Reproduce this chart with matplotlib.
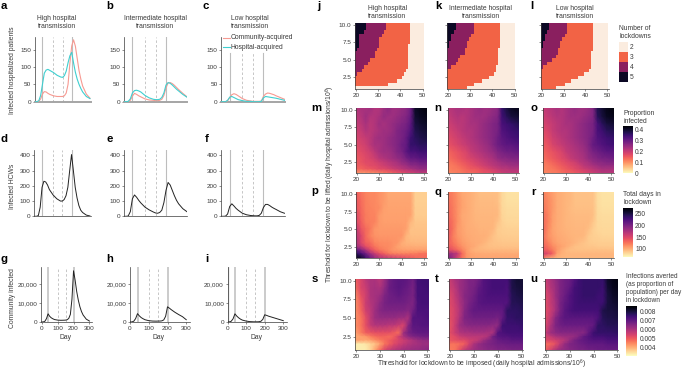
import numpy as np
import matplotlib
matplotlib.use("Agg")
import matplotlib.pyplot as plt
from matplotlib.colors import ListedColormap, BoundaryNorm, Normalize
from matplotlib.cm import ScalarMappable

plt.rcParams["font.family"] = ["Liberation Sans", "DejaVu Sans"]
plt.rcParams["mathtext.default"] = "regular"
plt.rcParams["font.size"] = 4.85

W, H = 685, 370
GREY = "#3a3a3a"
SALMON = "#f79a92"
TEAL = "#3fcfd0"

### line panel data
days = [0, 10, 20, 30, 40, 50, 60, 70, 80, 100, 120, 140, 150, 160, 170, 180, 190, 200, 210, 220, 230, 240, 250, 260, 280, 300]

a_comm = [0, 0, 1, 8, 22, 29, 28, 24, 21, 17, 15, 15, 15, 17, 25, 50, 110, 160, 178, 160, 125, 90, 65, 45, 22, 10]
a_hosp = [0, 0, 3, 18, 50, 82, 91, 93, 90, 84, 76, 71, 70, 75, 88, 112, 132, 142, 112, 85, 65, 50, 38, 28, 15, 9]
b_comm = [0, 0, 0, 4, 16, 24, 21, 17, 14, 8, 5, 4, 3, 3, 4, 7, 18, 40, 54, 55, 52, 47, 41, 35, 24, 14]
b_hosp = [0, 0, 1, 8, 25, 32, 33, 31, 28, 18, 11, 7, 6, 6, 7, 12, 25, 48, 55, 53, 48, 42, 36, 31, 21, 13]
c_comm = [0, 0, 0, 3, 12, 20, 23, 21, 17, 9, 4, 2, 1, 1, 1, 1, 2, 15, 22, 25, 24, 22, 20, 17, 12, 7]
c_hosp = [0, 0, 0, 4, 13, 15, 12, 9, 6, 3, 1, 1, 0, 0, 0, 0, 1, 11, 15, 14, 13, 12, 11, 10, 7, 4]

d_hcw = [0, 0, 5, 60, 190, 230, 225, 205, 175, 140, 115, 100, 100, 110, 135, 190, 300, 405, 300, 190, 120, 70, 40, 25, 8, 2]
e_hcw = [0, 0, 2, 30, 115, 140, 125, 105, 88, 60, 42, 28, 22, 20, 25, 40, 90, 170, 222, 205, 170, 135, 105, 82, 50, 30]
f_hcw = [0, 0, 1, 15, 65, 82, 68, 52, 40, 20, 10, 5, 4, 3, 3, 6, 20, 58, 78, 78, 70, 60, 52, 45, 30, 20]

g_com = [0, 50, 400, 1800, 4300, 3000, 2200, 1700, 1300, 1000, 900, 950, 1000, 1200, 1900, 4000, 12000, 27000, 22000, 16000, 11500, 8000, 5500, 3700, 1500, 500]
h_com = [0, 50, 400, 1800, 4400, 3200, 2300, 1700, 1200, 700, 500, 450, 500, 500, 600, 1100, 3000, 8000, 7300, 6500, 5800, 5100, 4500, 3900, 2800, 1200]
i_com = [0, 50, 400, 1700, 4300, 3100, 2200, 1500, 1000, 500, 200, 100, 100, 100, 150, 400, 1400, 3800, 3500, 3100, 2800, 2500, 2200, 1900, 1300, 700]

lockdown_days = [40, 100, 150, 200]

### number of lockdowns: upper x limit of each region, one value per row (y = 10 down to 1)
y_rows = [10, 9.5, 9, 8.5, 8, 7.5, 7, 6.5, 6, 5.5, 5, 4.5, 4, 3.5, 3, 2.5, 2, 1.5, 1]
x_cols = list(range(20, 51))

j_b5 = [24.5, 24.5, 23.5, 21.5, 21.5, 21.5, 21.5, 20.5, 19, 19, 19, 19, 19, 19, 19, 19, 19, 19, 19]
j_b4 = [33.5, 33.5, 32.5, 31.5, 30.5, 30.5, 30.5, 29.5, 28.5, 28.5, 26.5, 25.5, 23.5, 22.5, 20.5, 19, 19, 19, 19]
j_b3 = [44.5, 44.5, 44.5, 44.5, 44.5, 44.5, 43.5, 43.5, 43.5, 43.5, 43.5, 43.5, 43.5, 42.5, 41.5, 40.5, 38.5, 34.5, 19]
k_b5 = [23.5, 23.5, 22.5, 21.5, 21.5, 20.5, 20.5, 19, 19, 19, 19, 19, 19, 19, 19, 19, 19, 19, 19]
k_b4 = [31.5, 31.5, 31.5, 30.5, 29.5, 28.5, 28.5, 27.5, 27.5, 25.5, 24.5, 23.5, 21.5, 19, 19, 19, 19, 19, 19]
k_b3 = [43.5, 43.5, 43.5, 43.5, 43.5, 43.5, 43.5, 42.5, 42.5, 42.5, 42.5, 42.5, 41.5, 41.5, 40.5, 38.5, 35.5, 31.5, 28.5]
l_b5 = [23.5, 23.5, 22.5, 21.5, 21.5, 20.5, 20.5, 19, 19, 19, 19, 19, 19, 19, 19, 19, 19, 19, 19]
l_b4 = [31.5, 31.5, 31.5, 30.5, 29.5, 28.5, 28.5, 27.5, 27.5, 26.5, 24.5, 22.5, 20.5, 19, 19, 19, 19, 19, 19]
l_b3 = [43.5, 43.5, 43.5, 43.5, 43.5, 43.5, 43.5, 43.5, 42.5, 42.5, 42.5, 42.5, 42.5, 41.5, 39.5, 36.5, 33.5, 30.5, 26.5]

### heatmap rows are y_grid, columns are x_grid
y_grid = [10, 9, 8, 7, 6, 5, 4, 3, 2.5, 2, 1.5, 1]
x_grid = list(range(20, 51, 2))

# proportion infected, in percent
m_inf = [[22, 23, 23, 24, 22, 22, 24, 26, 24, 24, 25, 26, 29, 40, 41, 42],
         [21, 22, 24, 22, 22, 23, 25, 24, 24, 25, 26, 27, 30, 39, 40, 41],
         [20, 21, 23, 21, 22, 24, 23, 24, 25, 26, 27, 28, 31, 38, 39, 40],
         [19, 20, 22, 21, 22, 23, 24, 24, 25, 27, 28, 29, 32, 37, 38, 39],
         [18, 19, 20, 21, 23, 24, 24, 25, 26, 27, 28, 30, 34, 36, 37, 38],
         [17, 18, 19, 21, 23, 23, 24, 25, 26, 27, 29, 30, 35, 35, 36, 36],
         [16, 17, 18, 19, 21, 23, 24, 24, 25, 27, 28, 31, 33, 33, 34, 34],
         [15, 16, 17, 18, 19, 21, 22, 23, 24, 25, 26, 28, 30, 30, 31, 31],
         [15, 16, 17, 17, 18, 19, 20, 21, 22, 23, 25, 26, 28, 28, 29, 29],
         [15, 15, 16, 17, 17, 18, 19, 20, 21, 22, 23, 24, 26, 26, 27, 27],
         [14, 14, 15, 15, 16, 17, 17, 18, 19, 20, 21, 22, 23, 24, 25, 25],
         [9, 9, 9, 10, 10, 11, 12, 13, 14, 15, 16, 17, 18, 19, 20, 20]]
n_inf = [[21, 22, 23, 23, 22, 23, 24, 25, 24, 24, 25, 26, 35, 38, 40, 41],
         [20, 21, 22, 21, 22, 23, 24, 24, 24, 25, 26, 27, 34, 36, 38, 39],
         [19, 20, 21, 21, 22, 23, 23, 24, 25, 26, 27, 28, 33, 34, 35, 37],
         [18, 19, 20, 21, 22, 22, 23, 24, 25, 26, 27, 28, 32, 33, 34, 35],
         [17, 18, 19, 20, 21, 22, 23, 24, 25, 26, 27, 29, 31, 32, 33, 34],
         [16, 17, 18, 19, 20, 21, 22, 23, 24, 25, 27, 29, 30, 31, 31, 32],
         [14, 15, 16, 17, 18, 20, 21, 22, 23, 24, 25, 27, 28, 29, 29, 30],
         [13, 14, 15, 16, 17, 18, 19, 20, 21, 22, 23, 25, 26, 26, 27, 27],
         [12, 13, 14, 15, 16, 17, 18, 19, 20, 21, 22, 23, 24, 25, 25, 26],
         [12, 12, 13, 14, 15, 16, 17, 18, 19, 20, 21, 22, 23, 23, 24, 24],
         [11, 12, 12, 13, 14, 15, 15, 16, 17, 18, 19, 20, 21, 21, 22, 22],
         [11, 11, 12, 12, 13, 13, 14, 15, 16, 16, 17, 18, 19, 20, 20, 20]]
o_inf = [[20, 21, 22, 23, 22, 23, 24, 25, 24, 24, 25, 27, 37, 39, 41, 42],
         [19, 20, 21, 22, 22, 23, 24, 24, 24, 25, 26, 27, 36, 38, 40, 41],
         [18, 19, 20, 21, 22, 23, 23, 24, 25, 26, 27, 28, 33, 36, 38, 39],
         [17, 18, 20, 21, 22, 22, 23, 24, 25, 26, 27, 28, 33, 34, 36, 37],
         [16, 17, 19, 20, 21, 22, 23, 24, 25, 26, 27, 29, 32, 33, 34, 35],
         [15, 16, 18, 19, 20, 21, 22, 23, 24, 25, 27, 30, 31, 32, 33, 34],
         [14, 15, 16, 17, 18, 20, 21, 22, 23, 24, 26, 28, 29, 30, 31, 31],
         [13, 14, 15, 16, 17, 18, 20, 21, 22, 23, 25, 26, 27, 28, 28, 29],
         [12, 13, 14, 15, 16, 17, 18, 19, 21, 22, 23, 25, 26, 26, 27, 27],
         [12, 12, 13, 14, 15, 16, 17, 18, 19, 21, 22, 23, 24, 25, 25, 25],
         [11, 12, 12, 13, 14, 15, 16, 17, 18, 19, 20, 21, 22, 23, 23, 23],
         [11, 11, 12, 12, 13, 14, 14, 15, 16, 17, 18, 19, 20, 21, 21, 21]]

# total days in lockdown
p_days = [[135, 125, 118, 116, 116, 112, 108, 102, 102, 102, 102, 102, 102, 84, 84, 84],
          [140, 128, 120, 117, 116, 112, 108, 103, 103, 103, 103, 103, 103, 84, 84, 84],
          [140, 130, 120, 118, 116, 114, 106, 104, 104, 104, 104, 104, 103, 85, 85, 85],
          [150, 132, 122, 118, 118, 108, 105, 105, 105, 105, 105, 105, 104, 86, 86, 86],
          [150, 135, 122, 120, 118, 108, 106, 106, 106, 106, 106, 106, 95, 88, 88, 88],
          [165, 140, 130, 122, 110, 108, 108, 108, 108, 108, 108, 105, 90, 90, 90, 90],
          [170, 150, 130, 118, 112, 110, 110, 110, 110, 110, 110, 96, 92, 92, 92, 92],
          [175, 150, 135, 130, 118, 115, 114, 114, 112, 110, 100, 97, 96, 95, 95, 95],
          [180, 165, 145, 135, 125, 118, 116, 115, 112, 105, 102, 100, 100, 99, 99, 99],
          [215, 195, 175, 150, 135, 125, 120, 115, 110, 108, 106, 105, 105, 105, 105, 105],
          [240, 225, 205, 180, 160, 145, 135, 125, 120, 118, 118, 118, 120, 120, 125, 125],
          [270, 260, 235, 210, 190, 175, 170, 165, 160, 155, 150, 145, 140, 135, 130, 130]]
q_days = [[125, 118, 110, 102, 100, 98, 95, 92, 92, 92, 92, 92, 80, 76, 76, 76],
          [128, 120, 112, 104, 100, 98, 95, 93, 93, 93, 93, 92, 80, 77, 77, 77],
          [130, 122, 112, 104, 101, 98, 95, 94, 94, 94, 94, 93, 81, 78, 78, 78],
          [132, 122, 112, 102, 100, 98, 96, 95, 95, 95, 95, 94, 82, 79, 79, 79],
          [135, 125, 112, 103, 100, 98, 97, 96, 96, 96, 96, 90, 83, 81, 81, 81],
          [138, 125, 108, 104, 100, 99, 98, 97, 97, 97, 95, 86, 84, 83, 83, 83],
          [140, 120, 110, 105, 102, 100, 99, 98, 98, 96, 90, 87, 86, 85, 85, 85],
          [135, 125, 115, 108, 104, 102, 100, 99, 96, 92, 90, 89, 88, 88, 88, 88],
          [140, 130, 120, 112, 106, 103, 100, 95, 93, 92, 91, 91, 90, 90, 90, 90],
          [150, 140, 130, 118, 108, 100, 97, 96, 95, 94, 94, 94, 94, 94, 94, 94],
          [185, 175, 165, 130, 110, 104, 102, 101, 100, 100, 100, 100, 100, 100, 100, 100],
          [205, 180, 150, 125, 112, 106, 105, 104, 104, 104, 104, 104, 104, 104, 104, 104]]
r_days = [[120, 112, 106, 100, 98, 96, 94, 90, 90, 90, 90, 90, 78, 75, 75, 75],
          [122, 115, 108, 100, 98, 96, 94, 91, 91, 91, 91, 90, 78, 76, 76, 76],
          [125, 116, 108, 100, 98, 96, 93, 92, 92, 92, 92, 91, 79, 77, 77, 77],
          [128, 118, 106, 100, 98, 96, 94, 93, 93, 93, 93, 92, 79, 78, 78, 78],
          [130, 118, 106, 100, 98, 96, 95, 94, 94, 94, 94, 88, 80, 79, 79, 79],
          [132, 115, 104, 100, 98, 97, 96, 95, 95, 95, 92, 84, 81, 80, 80, 80],
          [128, 112, 106, 102, 100, 98, 97, 96, 96, 94, 87, 84, 83, 82, 82, 82],
          [130, 120, 110, 104, 102, 100, 98, 95, 92, 89, 87, 86, 85, 85, 85, 85],
          [135, 125, 115, 108, 104, 100, 95, 91, 90, 89, 88, 88, 87, 87, 87, 87],
          [140, 132, 122, 108, 100, 94, 92, 92, 91, 91, 91, 91, 91, 91, 91, 91],
          [155, 148, 135, 105, 98, 96, 95, 95, 95, 95, 95, 95, 95, 95, 95, 95],
          [125, 105, 98, 97, 96, 96, 96, 96, 96, 96, 96, 96, 96, 96, 96, 96]]

# infections averted per day in lockdown, in units of 0.0001
s_avert = [[50, 54, 58, 60, 60, 58, 62, 68, 70, 71, 71, 70, 68, 74, 75, 75],
           [48, 54, 56, 60, 61, 60, 64, 69, 70, 71, 70, 69, 67, 74, 74, 75],
           [45, 52, 55, 60, 61, 62, 66, 68, 69, 70, 69, 68, 67, 74, 74, 74],
           [44, 50, 56, 59, 61, 64, 67, 68, 68, 68, 68, 67, 66, 73, 74, 74],
           [44, 49, 55, 58, 62, 65, 66, 66, 66, 66, 66, 65, 68, 73, 73, 73],
           [44, 47, 52, 58, 62, 63, 63, 63, 63, 62, 62, 60, 72, 72, 72, 73],
           [44, 47, 52, 57, 59, 59, 59, 58, 58, 56, 54, 65, 71, 71, 72, 72],
           [42, 46, 50, 51, 52, 52, 52, 52, 50, 48, 62, 67, 69, 70, 70, 70],
           [41, 42, 43, 46, 48, 49, 49, 48, 50, 55, 60, 64, 66, 67, 68, 68],
           [42, 42, 41, 42, 44, 46, 48, 50, 52, 54, 56, 58, 60, 62, 63, 64],
           [33, 33, 34, 36, 38, 42, 47, 50, 53, 55, 57, 59, 60, 61, 62, 62],
           [33, 33, 33, 36, 42, 48, 54, 57, 59, 60, 62, 62, 63, 63, 64, 65]]
t_avert = [[56, 60, 62, 64, 66, 66, 68, 72, 73, 74, 74, 74, 74, 79, 81, 81],
           [55, 58, 62, 64, 66, 67, 70, 72, 73, 74, 74, 74, 73, 79, 80, 81],
           [53, 57, 61, 65, 66, 68, 71, 72, 73, 73, 73, 73, 73, 78, 79, 80],
           [53, 56, 60, 64, 67, 69, 71, 72, 72, 72, 72, 72, 72, 78, 78, 79],
           [52, 55, 59, 65, 68, 70, 70, 70, 70, 70, 70, 70, 77, 77, 77, 78],
           [52, 55, 60, 66, 67, 68, 68, 68, 68, 68, 67, 70, 76, 76, 77, 77],
           [51, 56, 62, 64, 65, 65, 65, 65, 65, 64, 64, 75, 75, 75, 75, 76],
           [52, 56, 59, 60, 60, 61, 61, 61, 60, 60, 72, 73, 74, 74, 74, 74],
           [51, 53, 56, 57, 58, 58, 58, 58, 60, 68, 71, 72, 72, 73, 73, 73],
           [51, 52, 53, 53, 55, 56, 58, 62, 65, 67, 69, 70, 70, 71, 71, 71],
           [47, 47, 48, 50, 55, 60, 63, 65, 66, 67, 68, 68, 69, 69, 69, 69],
           [46, 47, 52, 58, 60, 62, 63, 64, 65, 65, 66, 66, 66, 67, 67, 67]]
u_avert = [[56, 60, 63, 66, 68, 69, 72, 75, 76, 76, 76, 76, 76, 82, 84, 85],
           [54, 59, 62, 66, 68, 70, 74, 75, 76, 76, 76, 76, 75, 81, 83, 84],
           [53, 57, 62, 66, 69, 72, 74, 75, 76, 76, 76, 75, 75, 80, 82, 83],
           [52, 57, 61, 67, 70, 72, 74, 75, 75, 75, 75, 75, 75, 80, 81, 82],
           [52, 56, 61, 67, 71, 73, 74, 74, 74, 74, 74, 74, 79, 80, 80, 81],
           [52, 58, 65, 69, 71, 71, 71, 71, 71, 71, 71, 73, 78, 79, 79, 80],
           [53, 60, 66, 68, 69, 69, 69, 69, 69, 69, 70, 77, 77, 78, 78, 78],
           [56, 62, 64, 65, 65, 65, 65, 65, 65, 70, 75, 76, 76, 76, 76, 77],
           [54, 57, 60, 61, 62, 62, 63, 66, 70, 72, 74, 74, 74, 75, 75, 75],
           [53, 54, 55, 57, 59, 63, 67, 69, 70, 71, 72, 72, 72, 73, 73, 73],
           [48, 49, 52, 58, 63, 66, 67, 68, 69, 70, 70, 70, 70, 71, 71, 71],
           [50, 55, 60, 63, 64, 65, 66, 67, 67, 68, 68, 69, 69, 69, 69, 69]]

lockdown_colors = ["#fbecdf", "#f26345", "#8a1f5f", "#0c0824"]


def px_axes(fig, left, right, top, bottom):
    ax = fig.add_axes([left / W, 1 - bottom / H, (right - left) / W, (bottom - top) / H])
    ax.patch.set_alpha(0)
    return ax


def ftext(fig, x, y, s, **kw):
    kw.setdefault("color", GREY)
    kw.setdefault("ha", "center")
    kw.setdefault("va", "center")
    fig.text(x / W, 1 - y / H, s, **kw)


def style(ax):
    ax.spines["top"].set_visible(False)
    ax.spines["right"].set_visible(False)
    for s in ["left", "bottom"]:
        ax.spines[s].set_linewidth(0.5)
        ax.spines[s].set_color(GREY)
    ax.tick_params(length=1.6, width=0.4, color=GREY, labelcolor=GREY, labelsize=4.6, pad=1)


def line_panel(fig, box, xlim, series, ylim, yticks, yticklabels, thick_x=False, xlabels=False, vtop=1.0):
    ax = px_axes(fig, *box)
    style(ax)
    for d in lockdown_days:
        if d in (40, 200):
            ax.axvline(d, ymax=vtop, color="#bdbdbd", lw=0.8 if not xlabels else 1.1, zorder=1)
        else:
            ax.axvline(d, ymax=vtop, color="#bdbdbd", lw=0.6, ls=(0, (3, 2.5)), zorder=1)
    for y, c, lw in series:
        ax.plot(days, y, color=c, lw=lw, zorder=3, solid_joinstyle="round")
    ax.set_xlim(*xlim)
    ax.set_ylim(0, ylim)
    ax.set_yticks(yticks)
    ax.set_yticklabels(yticklabels)
    if xlabels:
        ax.set_xticks([0, 100, 200, 300])
    else:
        ax.set_xticks([])
    if thick_x:
        ax.spines["bottom"].set_linewidth(1.4)
        ax.spines["bottom"].set_color("#a5a5a5")
    return ax


def heat_axes(fig, box, x20, x50, y10, y25):
    left, right, top, bottom = box
    ax = px_axes(fig, *box)
    style(ax)
    sx = (x50 - x20) / 30.0
    sy = (y25 - y10) / 7.5
    ax.set_xlim(20 + (left - x20) / sx, 20 + (right - x20) / sx)
    ax.set_ylim(10 - (bottom - y10) / sy, 10 - (top - y10) / sy)
    ax.set_xticks([20, 30, 40, 50])
    ax.set_yticks([2.5, 5, 7.5, 10])
    ax.set_yticklabels(["2.5", "5.0", "7.5", "10.0"])
    return ax


def edges(centres, low, high):
    c = np.array(centres, dtype=float)
    e = (c[1:] + c[:-1]) / 2
    return np.concatenate([[low], e, [high]])


def count_panel(fig, box, ticks, b5, b4, b3, cmap, norm, labels=True):
    ax = heat_axes(fig, box, *ticks)
    z = np.full((len(y_rows), len(x_cols)), 2)
    for r in range(len(y_rows)):
        for c, x in enumerate(x_cols):
            if x < b5[r]:
                z[r, c] = 5
            elif x < b4[r]:
                z[r, c] = 4
            elif x < b3[r]:
                z[r, c] = 3
    ax.pcolormesh(edges(x_cols, 19.5, 50.5), edges(y_rows, 10.25, 0.75), z, cmap=cmap, norm=norm, lw=0, rasterized=True)
    if not labels:
        ax.set_yticklabels([])
    return ax


def value_panel(fig, box, ticks, grid, scale, cmap, norm, labels=True):
    ax = heat_axes(fig, box, *ticks)
    z = np.array(grid, dtype=float) * scale
    xl = ax.get_xlim()
    yl = ax.get_ylim()
    # outer cell centres pushed out to the frame, so the shaded mesh fills the axes
    xs = np.array(x_grid, dtype=float)
    ys = np.array(y_grid, dtype=float)
    xs[0], xs[-1] = xl[0], xl[1]
    ys[0], ys[-1] = yl[1], yl[0]
    ax.pcolormesh(xs, ys, z, cmap=cmap, norm=norm, shading="gouraud", rasterized=True)
    if not labels:
        ax.set_yticklabels([])
    return ax


def colour_bar(fig, box, sm, ticks, ticklabels):
    cax = px_axes(fig, *box)
    cb = fig.colorbar(sm, cax=cax)
    cb.outline.set_visible(False)
    cb.set_ticks(ticks)
    cb.set_ticklabels(ticklabels)
    cax.tick_params(length=0, pad=1.8, labelsize=4.8, labelcolor=GREY)
    return cb


def main():
    fig = plt.figure(figsize=(W / 100, H / 100), dpi=100)

    xa = (-2, 304)
    xb = (0, 300)

    # row 1
    h_t = [0, 50, 100, 150]
    top_box = (36.7, 101.7)
    series = [(a_comm, SALMON, 0.8), (a_hosp, TEAL, 0.8)]
    line_panel(fig, (34.8, 90.7, *top_box), xa, series, 187, h_t, h_t, thick_x=True)
    series = [(b_comm, SALMON, 0.8), (b_hosp, TEAL, 0.8)]
    line_panel(fig, (124, 187, *top_box), xb, series, 187, h_t, h_t, thick_x=True)
    series = [(c_comm, SALMON, 0.8), (c_hosp, TEAL, 0.8)]
    line_panel(fig, (221.3, 284.5, *top_box), xb, series, 187, h_t, h_t, thick_x=True, vtop=0.75)

    # row 2
    t2 = [0, 100, 200, 300, 400]
    box2 = (150, 216.3)
    line_panel(fig, (34.3, 90.7, *box2), xa, [(d_hcw, "#222222", 0.7)], 435, t2, t2)
    line_panel(fig, (124, 187, *box2), xb, [(e_hcw, "#222222", 0.7)], 435, t2, t2)
    line_panel(fig, (221.3, 284.5, *box2), xb, [(f_hcw, "#222222", 0.7)], 435, t2, t2)

    # row 3
    t3 = [0, 10000, 20000]
    l3 = ["0", "10,000", "20,000"]
    box3 = (267, 322)
    line_panel(fig, (41.4, 92, *box3), (-2, 316), [(g_com, "#222222", 0.7)], 29000, t3, l3, xlabels=True)
    line_panel(fig, (130, 190, *box3), (0, 320), [(h_com, "#222222", 0.7)], 29000, t3, l3, xlabels=True)
    ax_i = line_panel(fig, (227.5, 287, *box3), (0, 320), [(i_com, "#222222", 0.7)], 29000, t3, l3, xlabels=True)
    ax_i.axvline(1, color="#bdbdbd", lw=1.0, zorder=1)

    # heatmaps
    cm_count = ListedColormap(lockdown_colors)
    nm_count = BoundaryNorm([1.5, 2.5, 3.5, 4.5, 5.5], 4)
    cm_val = plt.get_cmap("magma_r")
    nm_inf = Normalize(0, 0.43)
    nm_days = Normalize(63, 276)
    nm_avert = Normalize(0.0031, 0.00863)

    t1 = (25, 77.3)
    count_panel(fig, (355, 423.5, 23.3, 89.3), (356, 422.7, *t1), j_b5, j_b4, j_b3, cm_count, nm_count)
    count_panel(fig, (446.7, 515.2, 23.3, 89.3), (448, 514.7, *t1), k_b5, k_b4, k_b3, cm_count, nm_count, labels=False)
    count_panel(fig, (540.7, 608.7, 23.3, 89.3), (541.7, 607.3, *t1), l_b5, l_b4, l_b3, cm_count, nm_count, labels=False)

    t_m = (110, 162.3)
    value_panel(fig, (356.3, 427.3, 108.3, 173.3), (356.7, 424.3, *t_m), m_inf, 0.01, cm_val, nm_inf)
    value_panel(fig, (447.7, 519.3, 108.3, 173.3), (448.7, 515.5, *t_m), n_inf, 0.01, cm_val, nm_inf, labels=False)
    value_panel(fig, (542.7, 614, 108.3, 173.3), (543.7, 611, *t_m), o_inf, 0.01, cm_val, nm_inf, labels=False)

    t_p = (194.3, 246.7)
    value_panel(fig, (356.3, 427.3, 192.3, 258.3), (356.7, 424.3, *t_p), p_days, 1, cm_val, nm_days)
    value_panel(fig, (447.7, 519.3, 192.3, 258.3), (448.7, 515.5, *t_p), q_days, 1, cm_val, nm_days, labels=False)
    value_panel(fig, (542.7, 614, 192.3, 258.3), (543.7, 611, *t_p), r_days, 1, cm_val, nm_days, labels=False)

    t_s = (280.7, 336.7)
    value_panel(fig, (355.3, 428.7, 279.3, 350), (356.3, 427.3, *t_s), s_avert, 0.0001, cm_val, nm_avert)
    value_panel(fig, (449.3, 522.7, 279.3, 350), (450.3, 521.7, *t_s), t_avert, 0.0001, cm_val, nm_avert, labels=False)
    value_panel(fig, (545, 618.3, 279.3, 350), (546, 617.3, *t_s), u_avert, 0.0001, cm_val, nm_avert, labels=False)

    # colour bars
    cb = colour_bar(fig, (619.3, 627.7, 41.7, 81.7), ScalarMappable(nm_count, cm_count), [2, 3, 4, 5], ["2", "3", "4", "5"])
    cb.ax.invert_yaxis()
    cb.ax.minorticks_off()
    colour_bar(fig, (623.3, 632.7, 125.7, 173.3), ScalarMappable(nm_inf, cm_val), [0, 0.1, 0.2, 0.3, 0.4], ["0", "0.1", "0.2", "0.3", "0.4"])
    colour_bar(fig, (623.3, 632.7, 207.7, 257.3), ScalarMappable(nm_days, cm_val), [100, 150, 200, 250], ["100", "150", "200", "250"])
    colour_bar(fig, (626.3, 637, 306, 355.7), ScalarMappable(nm_avert, cm_val), [0.004, 0.005, 0.006, 0.007, 0.008], ["0.004", "0.005", "0.006", "0.007", "0.008"])

    # legend in panel c
    for yp, c, s in [(37.7, SALMON, "Community-acquired"), (47.3, TEAL, "Hospital-acquired")]:
        fig.add_artist(plt.Line2D([223.5 / W, 230 / W], [1 - yp / H] * 2, color=c, lw=0.8))
        ftext(fig, 230.7, yp, s, ha="left")

    # titles
    for x, s in [(56.7, "High hospital"), (155, "Intermediate hospital"), (250, "Low hospital"),
                 (387.3, "High hospital"), (480.7, "Intermediate hospital"), (575, "Low hospital")]:
        yy = 18 if x < 300 else 8
        ftext(fig, x, yy, s)
        ftext(fig, x, yy + 8.3, "transmission")

    # axis labels
    ftext(fig, 13, 70, "Infected hospitalized patients", rotation=90)
    ftext(fig, 13, 186.7, "Infected HCWs", rotation=90)
    ftext(fig, 13, 298, "Community infected", rotation=90)
    for x in [65.7, 158.7, 256.7]:
        ftext(fig, x, 337.3, "Day")
    ftext(fig, 330, 184, "Threshold for lockdown to be lifted (daily hospital admissions/10$^{6}$)", rotation=90)
    ftext(fig, 482, 364.5, "Threshold for lockdown to be imposed (daily hospital admissions/10$^{6}$)")

    # colour bar titles
    ftext(fig, 619.3, 28.5, "Number of", ha="left")
    ftext(fig, 619.3, 36.7, "lockdowns", ha="left")
    ftext(fig, 623.3, 113.5, "Proportion", ha="left")
    ftext(fig, 623.3, 121.5, "infected", ha="left")
    ftext(fig, 623.3, 195, "Total days in", ha="left")
    ftext(fig, 623.3, 203, "lockdown", ha="left")
    for yp, s in [(276.5, "Infections averted"), (284.5, "(as proportion of"), (293, "population) per day"), (301, "in lockdown")]:
        ftext(fig, 626.5, yp, s, ha="left", fontsize=4.7)

    # panel letters
    letters = [("a", 4, 6), ("b", 110, 6), ("c", 206, 6), ("d", 4, 139), ("e", 110, 139), ("f", 207, 139),
               ("g", 4, 259.5), ("h", 110, 259.5), ("i", 207, 259.5),
               ("j", 319, 6), ("k", 438, 6), ("l", 532, 6),
               ("m", 316, 108), ("n", 438, 108), ("o", 534, 108),
               ("p", 315, 191), ("q", 438, 192), ("r", 533, 192),
               ("s", 315, 279), ("t", 437, 279), ("u", 534, 279)]
    for s, x, y in letters:
        ftext(fig, x, y, s, fontsize=8.2, fontweight="bold", color="black")

    fig.savefig("out.png", dpi=100)


if __name__ == "__main__":
    main()
